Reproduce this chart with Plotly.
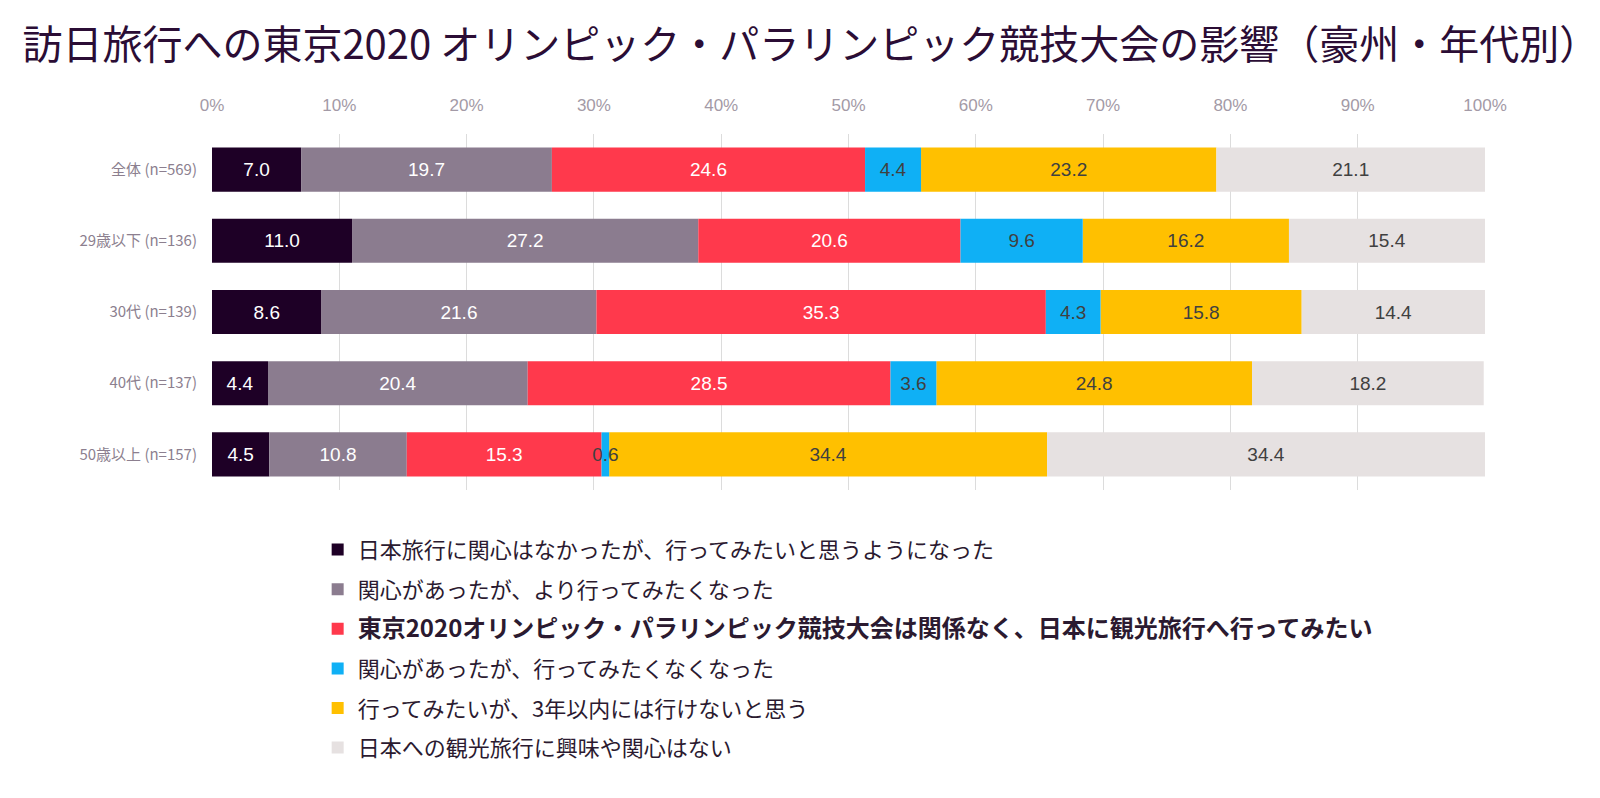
import plotly.graph_objects as go

categories = ["全体 (n=569)", "29歳以下 (n=136)", "30代 (n=139)", "40代 (n=137)", "50歳以上 (n=157)"]

series_names = [
    "日本旅行に関心はなかったが、行ってみたいと思うようになった",
    "関心があったが、より行ってみたくなった",
    "<b><span style='font-size:24px'>東京2020オリンピック・パラリンピック競技大会は関係なく、日本に観光旅行へ行ってみたい</span></b>",
    "関心があったが、行ってみたくなくなった",
    "行ってみたいが、3年以内には行けないと思う",
    "日本への観光旅行に興味や関心はない",
]

s1 = [7.0, 11.0, 8.6, 4.4, 4.5]
s2 = [19.7, 27.2, 21.6, 20.4, 10.8]
s3 = [24.6, 20.6, 35.3, 28.5, 15.3]
s4 = [4.4, 9.6, 4.3, 3.6, 0.6]
s5 = [23.2, 16.2, 15.8, 24.8, 34.4]
s6 = [21.1, 15.4, 14.4, 18.2, 34.4]

series_values = [s1, s2, s3, s4, s5, s6]
colors = ["#1e0026", "#8b7c8f", "#ff394c", "#0fb0f5", "#ffc000", "#e6e1e1"]
text_colors = ["#ffffff", "#ffffff", "#ffffff", "#404040", "#404040", "#404040"]

tick_vals = [0, 10, 20, 30, 40, 50, 60, 70, 80, 90, 100]
tick_text = ["0%", "10%", "20%", "30%", "40%", "50%", "60%", "70%", "80%", "90%", "100%"]

JP = "Noto Sans CJK JP"
NUM = "Liberation Sans, Arial, sans-serif"

# cumulative bases so that stacking is explicit (lets the narrow blue bar be drawn on top)
bases = []
running = [0.0] * len(categories)
for vals in series_values:
    bases.append(list(running))
    running = [r + v for r, v in zip(running, vals)]

draw_order = [0, 1, 2, 4, 5, 3]

fig = go.Figure()
for i in draw_order:
    fig.add_trace(go.Bar(
        y=categories, x=series_values[i], base=bases[i], name=series_names[i], orientation="h",
        marker=dict(color=colors[i], line=dict(width=0)),
        texttemplate="%{x:.1f}", textposition="inside", insidetextanchor="middle",
        textangle=0,
        textfont=dict(color=text_colors[i], size=19, family=NUM),
        legendgroup=f"g{i}", legendrank=i + 1,
        hoverinfo="x+name",
    ))

fig.update_layout(
    barmode="overlay",
    bargap=0.38,
    width=1600, height=798,
    margin=dict(l=204, r=123, t=126, b=316, autoexpand=False),
    paper_bgcolor="white", plot_bgcolor="white",
    uniformtext=dict(minsize=19, mode="show"),
    title=dict(
        text="訪日旅行への東京2020 オリンピック・パラリンピック競技大会の影響（豪州・年代別）",
        x=0.009, xanchor="left", xref="container", y=0.954, yanchor="middle", yref="container",
        font=dict(family=JP, size=40, color="#2b0d35"),
    ),
    xaxis=dict(
        range=[0, 100], side="top", tickvals=tick_vals, ticktext=tick_text,
        showgrid=True, gridcolor="#dcdcdc", gridwidth=1, zeroline=False,
        showline=False, ticks="", ticklabelstandoff=19, automargin=False,
        tickfont=dict(family="Liberation Sans, Roboto, sans-serif", size=17, color="#a39aa6"),
    ),
    yaxis=dict(
        autorange="reversed", showgrid=False, showline=False, ticks="",
        ticklabelstandoff=14, automargin=False,
        tickfont=dict(family=JP, size=15, color="#8c7f8f"),
    ),
    legend=dict(
        orientation="v", x=0.083, xanchor="left", y=-0.109, yanchor="top",
        font=dict(family=JP, size=22, color="#2b1a30"),
        tracegroupgap=8, itemwidth=30, traceorder="grouped",
        bgcolor="rgba(0,0,0,0)",
    ),
    showlegend=True,
)

fig.write_html("out.html")
